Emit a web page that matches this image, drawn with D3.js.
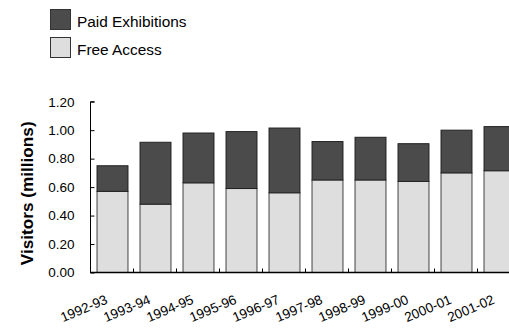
<!DOCTYPE html>
<html><head><meta charset="utf-8">
<script src="https://cdn.jsdelivr.net/npm/d3@7"></script>
<style>body{margin:0;background:#fff}svg{display:block}</style>
</head><body>
<script>
const categories = ["1992-93","1993-94","1994-95","1995-96","1996-97","1997-98","1998-99","1999-00","2000-01","2001-02"];
const freeAccess = [0.57,0.48,0.63,0.59,0.56,0.65,0.65,0.64,0.70,0.715];
const paidExhibitions = [0.18,0.435,0.35,0.40,0.455,0.27,0.30,0.265,0.30,0.31];
const yTicks = [0,0.2,0.4,0.6,0.8,1.0,1.2];
const seriesNames = ["Paid Exhibitions","Free Access"];
const colors = {"Paid Exhibitions":"#4b4b4b","Free Access":"#dedede"};

const W=509,H=333;
const svg=d3.select("body").append("svg").attr("width",W).attr("height",H);
const font="Liberation Sans, Arial, Helvetica, sans-serif";
const x0=91, step=43;
const x=d3.scaleBand().domain(categories).range([x0,x0+step*categories.length]).paddingInner(0.28).paddingOuter(0.14);
const y=d3.scaleLinear().domain([0,1.2]).range([272.5,101.7]);

const data=categories.map((c,i)=>({c,free:freeAccess[i],paid:paidExhibitions[i]}));
const g=svg.append("g");
g.selectAll("rect.free").data(data).join("rect").attr("class","free")
 .attr("x",d=>x(d.c)).attr("width",x.bandwidth())
 .attr("y",d=>y(d.free)).attr("height",d=>y(0)-y(d.free))
 .attr("fill",colors["Free Access"]).attr("stroke","#444").attr("stroke-width",1);
g.selectAll("rect.paid").data(data).join("rect").attr("class","paid")
 .attr("x",d=>x(d.c)).attr("width",x.bandwidth())
 .attr("y",d=>y(d.free+d.paid)).attr("height",d=>y(d.free)-y(d.free+d.paid))
 .attr("fill",colors["Paid Exhibitions"]).attr("stroke","#222").attr("stroke-width",1);

// y axis
const ya=svg.append("g").attr("transform","translate(90.5,0)")
 .call(d3.axisLeft(y).tickValues(yTicks).tickFormat(d3.format(".2f")).tickSize(-4).tickPadding(16));
ya.select(".domain").attr("stroke","#000").attr("d",`M4,${y(1.2)}H0V${y(0)}`);
ya.selectAll("text").attr("font-family",font).attr("font-size",13.5).attr("fill","#000");
ya.selectAll("line").attr("stroke","#000");

// x axis
const xa=svg.append("g");
xa.append("line").attr("x1",90).attr("x2",W).attr("y1",272.5).attr("y2",272.5).attr("stroke","#000").attr("stroke-width",1.5);
xa.selectAll("line.tk").data(categories.slice(1)).join("line").attr("class","tk")
 .attr("x1",d=>x(d)-x.step()*x.paddingInner()/2-0.5).attr("x2",d=>x(d)-x.step()*x.paddingInner()/2-0.5)
 .attr("y1",272.5).attr("y2",268.5).attr("stroke","#000");
xa.selectAll("text").data(categories).join("text")
 .attr("transform",d=>`translate(${x(d)+x.bandwidth()/2-4},303) rotate(-23)`)
 .attr("text-anchor","end").attr("font-family",font).attr("font-size",13.5).text(d=>d);

// y label
svg.append("text").attr("transform",`translate(33,193.3) rotate(-90)`)
 .attr("text-anchor","middle").attr("font-family",font).attr("font-weight","bold").attr("font-size",17.2).text("Visitors (millions)");

// legend
const lg=svg.append("g");
seriesNames.forEach((s,i)=>{
  lg.append("rect").attr("x",50.5).attr("y",9.5+i*28).attr("width",20).attr("height",20)
   .attr("fill",colors[s]).attr("stroke","#333").attr("stroke-width",1);
  lg.append("text").attr("x",77).attr("y",26.7+i*28).attr("font-family",font).attr("font-size",15.4).text(s);
});
</script>
</body></html>
